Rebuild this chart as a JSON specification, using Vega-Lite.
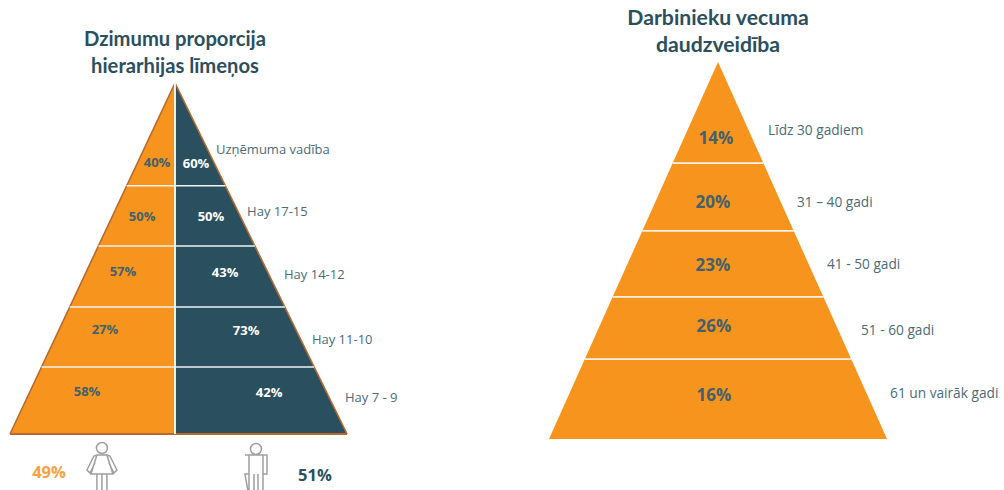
{
"$schema":"https://vega.github.io/schema/vega-lite/v6.json",
"padding":0,"spacing":0,"background":"white",
"config":{"view":{"stroke":null},"concat":{"spacing":0},"text":{"font":"Open Sans"}},
"datasets":{
"gender":[
{"level":"Uzņēmuma vadība","rank":1,"women":0.40,"men":0.60},
{"level":"Hay 17-15","rank":2,"women":0.50,"men":0.50},
{"level":"Hay 14-12","rank":3,"women":0.57,"men":0.43},
{"level":"Hay 11-10","rank":4,"women":0.27,"men":0.73},
{"level":"Hay 7 - 9","rank":5,"women":0.58,"men":0.42}],
"age":[
{"level":"Līdz 30 gadiem","rank":1,"share":0.14},
{"level":"31 – 40 gadi","rank":2,"share":0.20},
{"level":"41 - 50 gadi","rank":3,"share":0.23},
{"level":"51 - 60 gadi","rank":4,"share":0.26},
{"level":"61 un vairāk gadi","rank":5,"share":0.16}]
},
"hconcat":[
{"width":502,"height":490,
"data":{"name":"gender"},
"transform":[
{"calculate":"[0,29.3,46.4,63.8,80.9][datum.rank-1]","as":"top"},
{"calculate":"[29.3,46.4,63.8,80.9,100][datum.rank-1]","as":"bottom"},
{"calculate":"-[10.7,19.6,31,41.7,52.4][datum.rank-1]","as":"womenX"},
{"calculate":"[12.5,21.4,29.8,42.3,56][datum.rank-1]","as":"menX"},
{"calculate":"[22.8,38.2,53.8,70.4,88][datum.rank-1]","as":"womenY"},
{"calculate":"[23.1,38.2,54.1,70.7,88.3][datum.rank-1]","as":"menY"},
{"calculate":"[24.4,42.9,64.9,81.5,101.2][datum.rank-1]","as":"nameX"},
{"calculate":"[19.1,36.8,54.7,73.2,89.7][datum.rank-1]","as":"nameY"}
],
"layer":[
{"transform":[{"fold":["top","bottom"],"as":["edge","depth"]},{"calculate":"-0.982*datum.depth","as":"left"}],
"mark":{"type":"area","orient":"horizontal","color":"#F7941E"},
"encoding":{
"y":{"field":"depth","type":"quantitative","axis":null,"scale":{"domain":[-23.65,115.95],"reverse":true,"nice":false,"zero":false}},
"x":{"field":"left","type":"quantitative","axis":null,"stack":null,"scale":{"domain":[-104.17,194.64],"nice":false,"zero":false}},
"x2":{"datum":0},
"detail":{"field":"level"}}},
{"transform":[{"fold":["top","bottom"],"as":["edge","depth"]},{"calculate":"1.024*datum.depth","as":"right"}],
"mark":{"type":"area","orient":"horizontal","color":"#2A5060"},
"encoding":{
"y":{"field":"depth","type":"quantitative","axis":null},
"x":{"field":"right","type":"quantitative","axis":null,"stack":null},
"x2":{"datum":0},
"detail":{"field":"level"}}},
{"data":{"values":[{}]},"mark":{"type":"rule","color":"#B8692E","strokeWidth":1.6},
"encoding":{"x":{"datum":0,"type":"quantitative","axis":null},"x2":{"datum":-98.2},"y":{"datum":0,"type":"quantitative","axis":null},"y2":{"datum":100}}},
{"data":{"values":[{}]},"mark":{"type":"rule","color":"#B8692E","strokeWidth":1.6},
"encoding":{"x":{"datum":0,"type":"quantitative","axis":null},"x2":{"datum":102.4},"y":{"datum":0,"type":"quantitative","axis":null},"y2":{"datum":100}}},
{"data":{"values":[{}]},"mark":{"type":"rule","color":"#B8692E","strokeWidth":2},
"encoding":{"x":{"datum":-98.2,"type":"quantitative","axis":null},"x2":{"datum":102.4},"y":{"datum":100,"type":"quantitative","axis":null}}},
{"transform":[{"filter":"datum.rank<5"},{"calculate":"-0.982*datum.bottom","as":"left"},{"calculate":"1.024*datum.bottom","as":"right"}],
"mark":{"type":"rule","color":"#EEF2F3","strokeWidth":1.5},
"encoding":{"x":{"field":"left","type":"quantitative","axis":null},"x2":{"field":"right"},"y":{"field":"bottom","type":"quantitative","axis":null}}},
{"data":{"values":[{}]},"mark":{"type":"rule","color":"#FFFFFF","strokeWidth":1.8},
"encoding":{"x":{"datum":0,"type":"quantitative","axis":null},"y":{"datum":0,"type":"quantitative","axis":null},"y2":{"datum":100}}},
{"mark":{"type":"text","fontSize":13,"fontWeight":"bold","color":"#44606C","baseline":"middle"},
"encoding":{"x":{"field":"womenX","type":"quantitative","axis":null},"y":{"field":"womenY","type":"quantitative","axis":null},"text":{"field":"women","format":".0%"}}},
{"mark":{"type":"text","fontSize":13,"fontWeight":"bold","color":"#FFFFFF","baseline":"middle"},
"encoding":{"x":{"field":"menX","type":"quantitative","axis":null},"y":{"field":"menY","type":"quantitative","axis":null},"text":{"field":"men","format":".0%"}}},
{"mark":{"type":"text","fontSize":13,"color":"#4A6B79","baseline":"middle","align":"left"},
"encoding":{"x":{"field":"nameX","type":"quantitative","axis":null},"y":{"field":"nameY","type":"quantitative","axis":null},"text":{"field":"level"}}},
{"data":{"values":[{}]},"mark":{"type":"text","fontSize":20.2,"fontWeight":"bold","font":"Lato","color":"#2A5060","baseline":"middle","lineHeight":27,"dy":1,"text":["Dzimumu proporcija","hierarhijas līmeņos"]},
"encoding":{"x":{"datum":0,"type":"quantitative","axis":null},"y":{"datum":-12.5,"type":"quantitative","axis":null}}},
{"data":{"values":[{"group":"Sievietes","share":0.49}]},"mark":{"type":"text","fontSize":16.5,"fontWeight":"bold","color":"#F9A23F","baseline":"middle"},
"encoding":{"x":{"datum":-75,"type":"quantitative","axis":null},"y":{"datum":111.1,"type":"quantitative","axis":null},"text":{"field":"share","format":".0%"}}},
{"data":{"values":[{"group":"Vīrieši","share":0.51}]},"mark":{"type":"text","fontSize":16.5,"fontWeight":"bold","color":"#2A5060","baseline":"middle"},
"encoding":{"x":{"datum":83.3,"type":"quantitative","axis":null},"y":{"datum":112,"type":"quantitative","axis":null},"text":{"field":"share","format":".0%"}}},
{"data":{"values":[{}]},"mark":{"type":"point","filled":false,"size":4,"stroke":"#777777","strokeWidth":1.5,"shape":"M-5.5,-19a5.5,5.5 0 1,0 11,0a5.5,5.5 0 1,0 -11,0M-5,-12L5,-12L11,7L-11,7ZM-5,-12L-8,-11L-15,3L-12,6L-7,-4M5,-12L8,-11L15,3L12,6L7,-4M-5,7L-5,30M0,7L0,30M5,7L5,30"},
"encoding":{"x":{"datum":-43.5,"type":"quantitative","axis":null},"y":{"datum":109.4,"type":"quantitative","axis":null}}},
{"data":{"values":[{}]},"mark":{"type":"point","filled":false,"size":4,"stroke":"#777777","strokeWidth":1.5,"shape":"M-5.5,-18a5.5,5.5 0 1,0 11,0a5.5,5.5 0 1,0 -11,0M-11,-12L11,-12L11,7L7,7L7,30M-7,30L-7,7L-11,7ZM-7,-12L-7,7M7,-12L7,7M-2,7L-2,30M2,7L2,30"},
"encoding":{"x":{"datum":48.2,"type":"quantitative","axis":null},"y":{"datum":109.4,"type":"quantitative","axis":null}}}
]},
{"width":502,"height":490,
"data":{"name":"age"},
"transform":[
{"calculate":"[0,26.8,44.8,62.3,78.8][datum.rank-1]","as":"top"},
{"calculate":"[26.8,44.8,62.3,78.8,100][datum.rank-1]","as":"bottom"},
{"calculate":"-[1.2,3,3,2.4,2.4][datum.rank-1]","as":"shareX"},
{"calculate":"[19.9,36.9,53.6,70,88.3][datum.rank-1]","as":"shareY"},
{"calculate":"[29.6,46.7,64.5,84.6,101.8][datum.rank-1]","as":"nameX"},
{"calculate":"[18,37.1,53.6,71.1,87.8][datum.rank-1]","as":"nameY"}
],
"layer":[
{"transform":[{"fold":["top","bottom"],"as":["edge","depth"]},{"calculate":"-datum.depth","as":"left"}],
"mark":{"type":"area","orient":"horizontal","color":"#F7941E"},
"encoding":{
"y":{"field":"depth","type":"quantitative","axis":null,"scale":{"domain":[-16.45,113.53],"reverse":true,"nice":false,"zero":false}},
"x":{"field":"left","type":"quantitative","axis":null,"stack":null,"scale":{"domain":[-127.8,169.2],"nice":false,"zero":false}},
"x2":{"field":"depth"},
"detail":{"field":"level"}}},
{"transform":[{"filter":"datum.rank<5"},{"calculate":"-datum.bottom","as":"left"}],
"mark":{"type":"rule","color":"#FBF1E4","strokeWidth":1.8},
"encoding":{"x":{"field":"left","type":"quantitative","axis":null},"x2":{"field":"bottom"},"y":{"field":"bottom","type":"quantitative","axis":null}}},
{"mark":{"type":"text","fontSize":17,"fontWeight":"bold","color":"#44606C","baseline":"middle","dy":1.5},
"encoding":{"x":{"field":"shareX","type":"quantitative","axis":null},"y":{"field":"shareY","type":"quantitative","axis":null},"text":{"field":"share","format":".0%"}}},
{"mark":{"type":"text","fontSize":13.7,"color":"#4A6B79","baseline":"middle","align":"left","dy":1},
"encoding":{"x":{"field":"nameX","type":"quantitative","axis":null},"y":{"field":"nameY","type":"quantitative","axis":null},"text":{"field":"level"}}},
{"data":{"values":[{}]},"mark":{"type":"text","fontSize":21.2,"fontWeight":"bold","font":"Lato","color":"#2A5060","baseline":"middle","lineHeight":27,"dy":1,"text":["Darbinieku vecuma","daudzveidība"]},
"encoding":{"x":{"datum":0,"type":"quantitative","axis":null},"y":{"datum":-11.7,"type":"quantitative","axis":null}}}
]}
]
}
